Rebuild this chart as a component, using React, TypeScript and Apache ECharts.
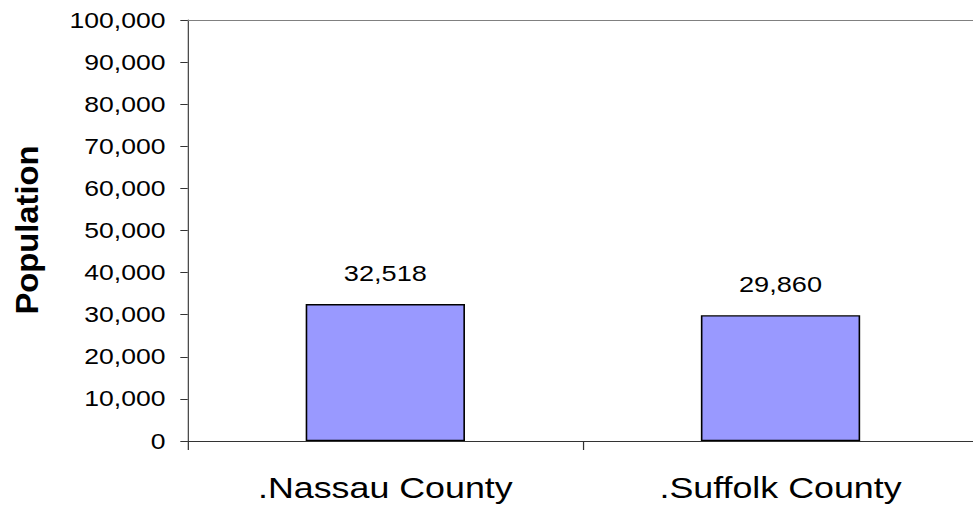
import React, { useEffect, useRef } from "react";
import * as echarts from "echarts";

// Population by county
const counties: string[] = [".Nassau County", ".Suffolk County"];
const population: number[] = [32518, 29860];

// Value axis range and step
const yMin = 0;
const yMax = 100000;
const yStep = 10000;

const axisTitle = "Population";

// The chart is laid out on a narrower canvas and widened horizontally,
// giving the broad lettering of the original spreadsheet chart.
const STRETCH = 1.235;
const PAGE_W = 973;
const PAGE_H = 506;
// a little wider than the page so the frame lines run off its right edge
const CANVAS_W = Math.ceil(PAGE_W / STRETCH) + 4;

const FONT = '"Liberation Sans", Arial, sans-serif';

const fmt = (v: number) => v.toLocaleString("en-US");

export default function App() {
  const ref = useRef<HTMLDivElement>(null);

  useEffect(() => {
    if (!ref.current) return;
    const chart = echarts.init(ref.current, undefined, { renderer: "svg" });

    chart.setOption({
      animation: false,
      backgroundColor: "#ffffff",
      grid: {
        left: 152,
        top: 20,
        width: 640,
        height: 421,
        show: false,
      },
      xAxis: [
        {
          type: "category",
          data: counties,
          axisLine: { show: true, lineStyle: { color: "#333333", width: 1 } },
          axisTick: {
            show: true,
            alignWithLabel: false,
            length: 9,
            lineStyle: { color: "#333333", width: 1 },
          },
          axisLabel: {
            margin: 33,
            color: "#000000",
            fontFamily: FONT,
            fontSize: 29,
          },
          splitLine: { show: false },
        },
        {
          // top frame line of the plot area
          type: "category",
          data: counties,
          position: "top",
          axisLine: { show: true, lineStyle: { color: "#808080", width: 1 } },
          axisTick: { show: false },
          axisLabel: { show: false },
          splitLine: { show: false },
        },
      ],
      yAxis: {
        type: "value",
        min: yMin,
        max: yMax,
        interval: yStep,
        axisLine: { show: true, lineStyle: { color: "#444444", width: 1 } },
        axisTick: {
          show: true,
          length: 6,
          lineStyle: { color: "#333333", width: 1 },
        },
        axisLabel: {
          margin: 18,
          color: "#000000",
          fontFamily: FONT,
          fontSize: 21.5,
          formatter: (v: number) => fmt(v),
        },
        splitLine: { show: false },
      },
      graphic: [
        {
          type: "text",
          x: 22,
          y: 230,
          rotation: Math.PI / 2,
          scaleX: 1.31,
          style: {
            text: axisTitle,
            font: `bold 25px ${FONT}`,
            align: "center",
            verticalAlign: "middle",
            fill: "#000000",
          },
        },
      ],
      series: [
        {
          type: "bar",
          xAxisIndex: 0,
          data: population,
          barWidth: 129,
          itemStyle: {
            color: "#9999ff",
            borderColor: "#000000",
            borderWidth: 1.3,
          },
          label: {
            show: true,
            position: "top",
            distance: 20,
            color: "#000000",
            fontFamily: FONT,
            fontSize: 22,
            formatter: (p: any) => fmt(p.value),
          },
        },
      ],
    });

    return () => chart.dispose();
  }, []);

  return (
    <div
      style={{
        position: "fixed",
        left: 0,
        top: 0,
        width: PAGE_W,
        height: PAGE_H,
        overflow: "hidden",
        background: "#ffffff",
      }}
    >
      <div
        ref={ref}
        style={{
          width: CANVAS_W,
          height: PAGE_H,
          transform: `scaleX(${STRETCH})`,
          transformOrigin: "0 0",
        }}
      />
    </div>
  );
}
